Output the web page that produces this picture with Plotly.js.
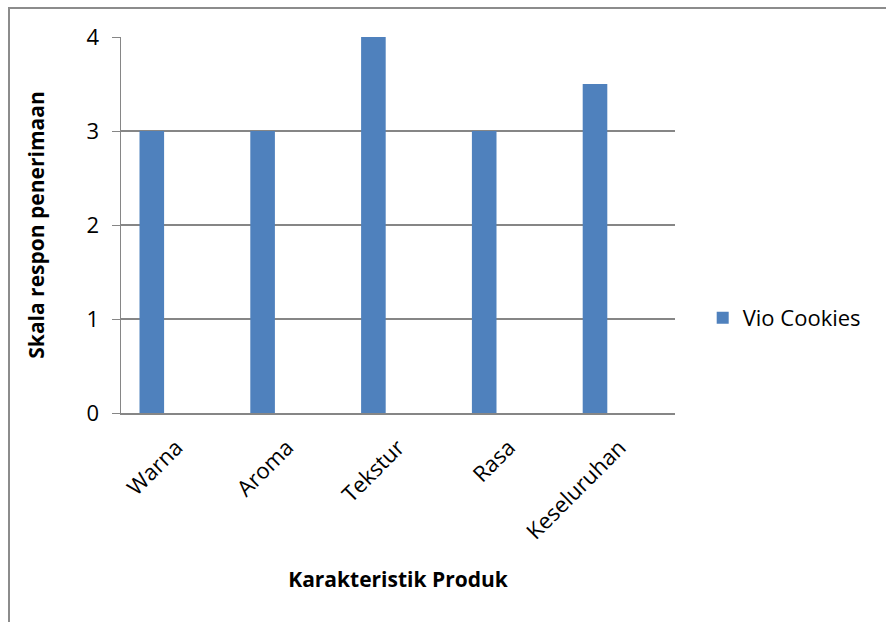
<!DOCTYPE html>
<html><head><meta charset="utf-8">
<script src="https://cdn.plot.ly/plotly-3.0.1.min.js"></script>
<style>
html,body{margin:0;padding:0;background:#fff;}
#wrap{position:relative;width:886px;height:622px;overflow:hidden;}
#chart{position:absolute;left:0;top:0;width:886px;height:622px;}
#frame{position:absolute;left:8px;top:7px;width:1000px;height:1000px;border-left:2px solid #8c8c8c;border-top:2px solid #8c8c8c;pointer-events:none;}
</style></head>
<body><div id="wrap"><div id="chart"></div><div id="frame"></div></div>
<script>
const categories = ["Warna", "Aroma", "Tekstur", "Rasa", "Keseluruhan"];
const vioCookies = [3, 3, 4, 3, 3.5];
const seriesName = "Vio Cookies";
const yTicks = [0, 1, 2, 3, 4];

const font = "'Open Sans', sans-serif";
Plotly.newPlot("chart", [{
  type: "bar", x: categories, y: vioCookies, name: seriesName,
  marker: {color: "#4F81BD"}, width: 0.222, offset: -0.333,
  showlegend: true
}], {
  width: 886, height: 622,
  margin: {l: 121, r: 211, t: 37, b: 209},
  paper_bgcolor: "#fff", plot_bgcolor: "#fff",
  font: {family: font, color: "#000"},
  xaxis: {
    type: "category", showgrid: false, showline: true, linecolor: "#868686", linewidth: 2,
    tickangle: -45, tickfont: {size: 22, family: font}, ticks: "", ticklabelstandoff: 11,
    title: {text: "<b>Karakteristik Produk</b>", font: {size: 21, family: font}, standoff: 28}
  },
  yaxis: {
    range: [0, 4], tickvals: yTicks, showgrid: true, gridcolor: "#868686", gridwidth: 1.3,
    showline: true, linecolor: "#868686", linewidth: 1.5, ticks: "outside", ticklen: 8,
    tickcolor: "#868686", tickfont: {size: 22, family: font}, zeroline: false, ticklabelstandoff: 8,
    title: {text: "<b>Skala respon penerimaan</b>", font: {size: 21, family: font}, standoff: 36}
  },
  legend: {x: 1.05, y: 0.253, xanchor: "left", yanchor: "middle", font: {size: 22, family: font}},
  showlegend: true
}, {displayModeBar: false, staticPlot: true});
</script></body></html>
